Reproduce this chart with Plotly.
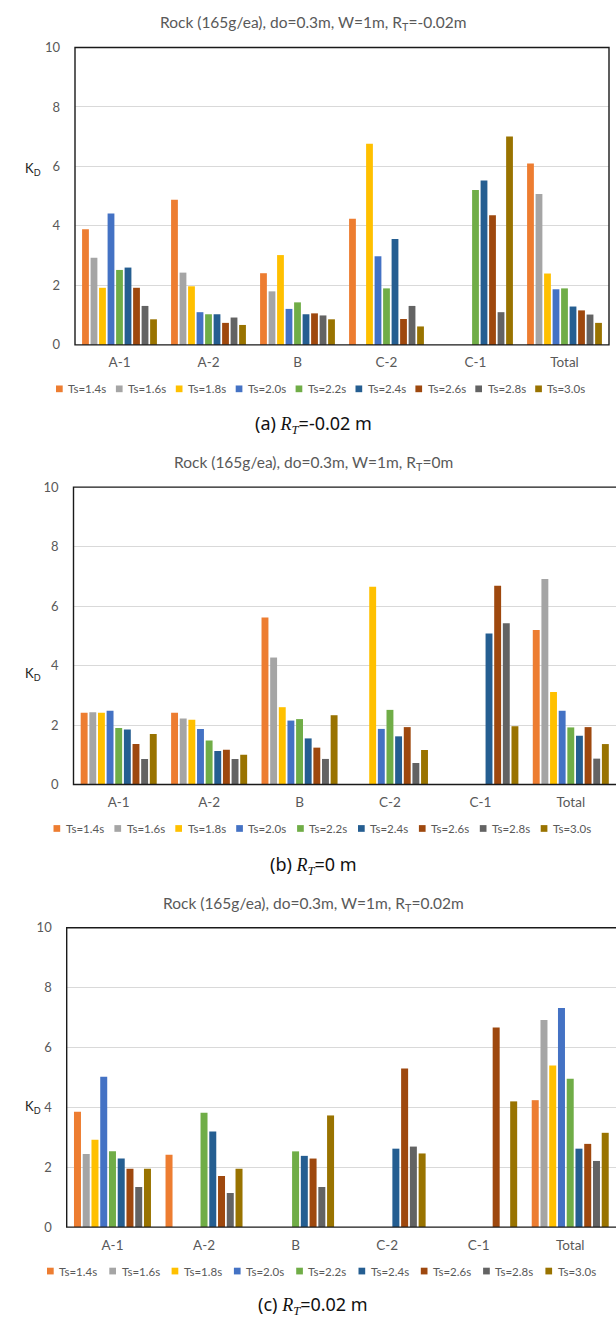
import plotly.graph_objects as go

# ---------------- data ----------------
categories = ["A-1", "A-2", "B", "C-2", "C-1", "Total"]
series_names = ["Ts=1.4s", "Ts=1.6s", "Ts=1.8s", "Ts=2.0s", "Ts=2.2s",
                "Ts=2.4s", "Ts=2.6s", "Ts=2.8s", "Ts=3.0s"]
colors = ["#ED7D31", "#A5A5A5", "#FFC000", "#4472C4", "#70AD47",
          "#255E91", "#9E480E", "#636363", "#997300"]
y_ticks = [0, 2, 4, 6, 8, 10]

# (a) R_T = -0.02 m
a_ts14 = [3.89, 4.88, 2.41, 4.24, None, 6.10]
a_ts16 = [2.93, 2.43, 1.80, None, None, 5.07]
a_ts18 = [1.92, 1.97, 3.02, 6.76, None, 2.40]
a_ts20 = [4.42, 1.10, 1.21, 2.98, None, 1.87]
a_ts22 = [2.52, 1.03, 1.43, 1.90, 5.21, 1.90]
a_ts24 = [2.60, 1.03, 1.03, 3.56, 5.53, 1.29]
a_ts26 = [1.92, 0.74, 1.06, 0.87, 4.36, 1.16]
a_ts28 = [1.31, 0.92, 0.99, 1.31, 1.10, 1.02]
a_ts30 = [0.86, 0.67, 0.86, 0.62, 7.01, 0.74]

# (b) R_T = 0 m
b_ts14 = [2.41, 2.41, 5.62, None, None, 5.20]
b_ts16 = [2.43, 2.22, 4.27, None, None, 6.91]
b_ts18 = [2.41, 2.18, 2.60, 6.65, None, 3.11]
b_ts20 = [2.48, 1.87, 2.15, 1.87, None, 2.48]
b_ts22 = [1.90, 1.48, 2.20, 2.51, None, 1.92]
b_ts24 = [1.85, 1.13, 1.55, 1.62, 5.08, 1.64]
b_ts26 = [1.36, 1.17, 1.24, 1.93, 6.68, 1.93]
b_ts28 = [0.86, 0.86, 0.86, 0.72, 5.42, 0.87]
b_ts30 = [1.70, 1.00, 2.33, 1.16, 1.96, 1.36]

# (c) R_T = 0.02 m
c_ts14 = [3.85, 2.42, None, None, None, 4.24]
c_ts16 = [2.44, None, None, None, None, 6.92]
c_ts18 = [2.92, None, None, None, None, 5.40]
c_ts20 = [5.02, None, None, None, None, 7.32]
c_ts22 = [2.53, 3.82, 2.53, None, None, 4.96]
c_ts24 = [2.29, 3.19, 2.38, 2.62, None, 2.62]
c_ts26 = [1.95, 1.71, 2.29, 5.30, 6.67, 2.78]
c_ts28 = [1.34, 1.14, 1.34, 2.69, None, 2.21]
c_ts30 = [1.95, 1.95, 3.73, 2.46, 4.20, 3.15]

panel_titles = ["Rock (165g/ea), do=0.3m, W=1m, R<sub>T</sub>=-0.02m",
                "Rock (165g/ea), do=0.3m, W=1m, R<sub>T</sub>=0m",
                "Rock (165g/ea), do=0.3m, W=1m, R<sub>T</sub>=0.02m"]
caption_prefix = ["(a)", "(b)", "(c)"]
caption_value = ["=-0.02 m", "=0 m", "=0.02 m"]

panels = [
    [a_ts14, a_ts16, a_ts18, a_ts20, a_ts22, a_ts24, a_ts26, a_ts28, a_ts30],
    [b_ts14, b_ts16, b_ts18, b_ts20, b_ts22, b_ts24, b_ts26, b_ts28, b_ts30],
    [c_ts14, c_ts16, c_ts18, c_ts20, c_ts22, c_ts24, c_ts26, c_ts28, c_ts30],
]

# ---------------- layout geometry (pixels) ----------------
W, H = 616, 1325
FONT = "Lato"
TXT = "#595959"

geo = [
    dict(l=75, r=609, top=40, bot=341, ty=15, lx=56.0, ls=59.9, kd=5.9),
    dict(l=73.5, r=616, top=485, bot=786, ty=461, lx=53.5, ls=60.9, kd=3.7),
    dict(l=66.7, r=616, top=931, bot=1234, ty=907, lx=47.0, ls=62.3, kd=4.0),
]
cap_y = [421.5, 867, 1312.5]
CX = 313


def px(x):
    return x / W


def py(y):
    return 1 - y / H


fig = go.Figure()
layout = dict(
    width=W, height=H,
    margin=dict(l=0, r=0, t=0, b=0),
    paper_bgcolor="white", plot_bgcolor="white",
    barmode="group", bargap=0.14, bargroupgap=0.2,
    showlegend=False,
    font=dict(family=FONT, color=TXT),
)
annotations = []
shapes = []

for p, (series, g) in enumerate(zip(panels, geo)):
    suf = "" if p == 0 else str(p + 1)
    xa, ya = "x" + suf, "y" + suf
    for name, col, vals in zip(series_names, colors, series):
        fig.add_trace(go.Bar(x=categories, y=vals, name=name, marker_color=col,
                             marker_line_width=0, xaxis=xa, yaxis=ya))
    layout["xaxis" + suf] = dict(
        domain=[px(g["l"]), min(1.0, px(g["r"]))], anchor=ya, type="category",
        showgrid=False, zeroline=False, showline=False, ticks="",
        tickfont=dict(size=13.5, color=TXT, family=FONT), ticklabelstandoff=8,
        fixedrange=True,
    )
    layout["yaxis" + suf] = dict(
        domain=[py(g["bot"]), py(g["top"])], anchor=xa, range=[0, 10],
        tickvals=y_ticks, showgrid=True, gridcolor="#D9D9D9", gridwidth=1,
        zeroline=False, showline=False, ticks="",
        tickfont=dict(size=13, color=TXT, family=FONT), ticklabelstandoff=14,
        fixedrange=True,
    )
    lc = dict(color="#1a1a1a", width=1.4)
    if p == 0:
        shapes.append(dict(type="rect", xref=xa + " domain", yref=ya + " domain",
                           x0=0, x1=1, y0=0, y1=1, line=lc, layer="above"))
    else:
        shapes.append(dict(type="path", xref="paper", yref="paper",
                           path=f"M {px(g['r']+2)},{py(g['top'])} L {px(g['l'])},{py(g['top'])} "
                                f"L {px(g['l'])},{py(g['bot'])} L {px(g['r']+2)},{py(g['bot'])}",
                           line=lc, layer="above"))
    annotations.append(dict(text=panel_titles[p], x=px(CX), y=py(g["ty"]),
                            xref="paper", yref="paper", showarrow=False,
                            xanchor="center", yanchor="middle",
                            font=dict(size=15.5, color=TXT, family=FONT)))
    annotations.append(dict(text="K<sub>D</sub>", x=px(33), y=g["kd"],
                            xref="paper", yref=ya, showarrow=False,
                            xanchor="center", yanchor="middle",
                            font=dict(size=13, color="#222222", family=FONT)))
    ly = g["bot"] + 44.5
    for i, (name, col) in enumerate(zip(series_names, colors)):
        x0 = g["lx"] + i * g["ls"]
        shapes.append(dict(type="rect", xref="paper", yref="paper",
                           x0=px(x0), x1=px(x0 + 6.7), y0=py(ly + 3.4), y1=py(ly - 3.4),
                           fillcolor=col, line=dict(width=0)))
        annotations.append(dict(text=name, x=px(x0 + 10.2), y=py(ly),
                                xref="paper", yref="paper", showarrow=False,
                                xanchor="left", yanchor="middle",
                                font=dict(size=11.5, color=TXT, family=FONT)))
    cap = (caption_prefix[p] + " <span style='font-family:Liberation Serif'><i>R</i>"
           "<sub><i>T</i></sub></span>" + caption_value[p])
    annotations.append(dict(text=cap, x=px(CX), y=py(cap_y[p]),
                            xref="paper", yref="paper", showarrow=False,
                            xanchor="center", yanchor="middle",
                            font=dict(size=18, color="#111111", family="Noto Sans")))

layout["annotations"] = annotations
layout["shapes"] = shapes
fig.update_layout(**layout)
fig.write_html("out.html",
               config={"displayModeBar": False, "staticPlot": True},
               post_script="document.body.style.margin='0';document.body.style.overflow='hidden';")
